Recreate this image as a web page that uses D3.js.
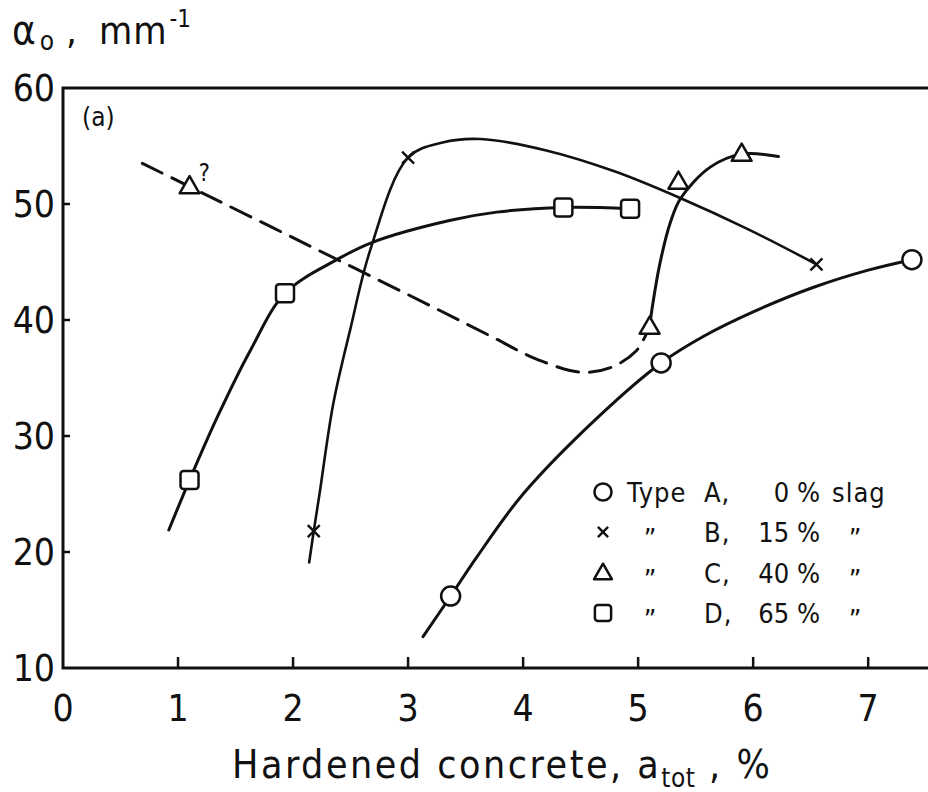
<!DOCTYPE html>
<html>
<head>
<meta charset="utf-8">
<script src="https://cdn.jsdelivr.net/npm/d3@7"></script>
<style>
  html, body { margin: 0; padding: 0; background: #fff; }
  svg { display: block; }
  text { font-family: "DejaVu Sans Condensed", "Liberation Sans Narrow", "DejaVu Sans", sans-serif; fill: #111; }
</style>
</head>
<body>
<svg id="chart" width="928" height="792"></svg>
<script>
// ---- data ----
const xTicks = [0, 1, 2, 3, 4, 5, 6, 7];
const yTicks = [10, 20, 30, 40, 50, 60];

// measured points (markers)
const pointsA = [[3.37, 16.2], [5.2, 36.3], [7.38, 45.2]];
const pointsB = [[2.18, 21.8], [3.0, 54.0], [6.55, 44.8]];
const pointsC = [[1.1, 51.5], [5.1, 39.4], [5.35, 51.9], [5.9, 54.3]];
const pointsD = [[1.1, 26.2], [1.93, 42.3], [4.35, 49.7], [4.93, 49.6]];

// hand-drawn trend curves
const curveA = [[3.13, 12.7], [3.37, 16.2], [3.6, 19.6], [4.0, 25.0], [4.67, 31.8], [5.2, 36.3], [5.57, 38.6], [6.0, 40.7], [6.52, 42.8], [7.0, 44.3], [7.38, 45.2]];
const curveB = [[2.14, 19.1], [2.18, 21.8], [2.23, 25.0], [2.35, 32.8], [2.5, 39.3], [2.67, 46.0], [3.0, 54.0], [3.3, 55.3], [3.63, 55.6], [4.21, 54.6], [4.8, 52.8], [5.37, 50.5], [5.94, 47.9], [6.55, 44.8]];
const curveC = [[5.1, 39.4], [5.12, 40.9], [5.19, 44.9], [5.28, 48.4], [5.37, 50.5], [5.63, 53.2], [5.9, 54.3], [6.22, 54.1]];
const curveCdashed = [[0.69, 53.5], [1.1, 51.5], [2.06, 46.8], [3.22, 41.1], [3.74, 38.5], [4.1, 36.7], [4.5, 35.5], [4.76, 35.9], [4.98, 37.3], [5.1, 39.4]];
const curveD = [[0.92, 21.9], [1.1, 26.2], [1.34, 31.6], [1.63, 37.4], [1.93, 42.3], [2.38, 45.2], [2.69, 46.7], [3.37, 48.6], [3.77, 49.3], [4.35, 49.7], [4.93, 49.6]];

const legendSymbols = ["circle", "cross", "triangle", "square"];
const legendLetters = ["A,", "B,", "C,", "D,"];
const legendPercents = ["0 %", "15 %", "40 %", "65 %"];

// ---- drawing ----
const svg = d3.select("#chart");
const x = d3.scaleLinear().domain([0, 7.52]).range([63, 928]);
const y = d3.scaleLinear().domain([10, 60]).range([668, 88]);

const line = d3.line().x(d => x(d[0])).y(d => y(d[1])).curve(d3.curveCatmullRom.alpha(0.5));

// frame: left axis, bottom axis, top border
svg.append("path")
  .attr("d", `M${x(7.52)},${y(60)} L${x(0)},${y(60)} L${x(0)},${y(10)} L${x(7.52)},${y(10)}`)
  .attr("fill", "none").attr("stroke", "#111").attr("stroke-width", 3);

// x ticks (inward)
svg.append("g").selectAll("line").data(xTicks.filter(d => d > 0)).join("line")
  .attr("x1", d => x(d)).attr("x2", d => x(d))
  .attr("y1", y(10)).attr("y2", y(10) - 11)
  .attr("stroke", "#111").attr("stroke-width", 2.5);
svg.append("g").selectAll("text").data(xTicks).join("text")
  .attr("x", d => x(d)).attr("y", 721)
  .attr("text-anchor", "middle").attr("font-size", 37)
  .text(d => d);

// y ticks (inward)
svg.append("g").selectAll("line").data(yTicks.filter(d => d > 10 && d < 60)).join("line")
  .attr("x1", x(0)).attr("x2", x(0) + 7)
  .attr("y1", d => y(d)).attr("y2", d => y(d))
  .attr("stroke", "#111").attr("stroke-width", 2.5);
svg.append("g").selectAll("text").data(yTicks).join("text")
  .attr("x", 55).attr("y", d => y(d) + 13)
  .attr("text-anchor", "end").attr("font-size", 37)
  .text(d => d);

// axis titles
const yt = svg.append("text").attr("x", 12).attr("y", 44).attr("font-size", 38);
yt.append("tspan").attr("font-size", 40).text("α");
yt.append("tspan").attr("font-size", 26).attr("dx", 4).attr("dy", 6).text("o");
yt.append("tspan").attr("dy", -6).attr("dx", 12).text(",");
yt.append("tspan").attr("dx", 22).attr("letter-spacing", 1).text("mm");
yt.append("tspan").attr("font-size", 24).attr("dy", -17).attr("dx", 2).text("-1");

const xt = svg.append("text").attr("x", 232).attr("y", 778).attr("font-size", 39).attr("letter-spacing", 2.5);
xt.append("tspan").text("Hardened concrete, a");
xt.append("tspan").attr("font-size", 26).attr("dy", 9).attr("letter-spacing", 0.5).text("tot");
xt.append("tspan").attr("dy", -9).text(" ,  %");

svg.append("text").attr("x", 82).attr("y", 126).attr("font-size", 26).text("(a)");

// curves
const curves = [
  { data: curveA, dash: null, w: 3 },
  { data: curveB, dash: null, w: 2.6 },
  { data: curveC, dash: null, w: 3 },
  { data: curveD, dash: null, w: 3 },
  { data: curveCdashed, dash: "22,11", w: 3 }
];
svg.append("g").selectAll("path").data(curves).join("path")
  .attr("d", d => line(d.data))
  .attr("fill", "none").attr("stroke", "#111")
  .attr("stroke-width", d => d.w)
  .attr("stroke-dasharray", d => d.dash)
  .attr("stroke-linecap", "round");

// markers
function drawMarker(g, type, cx, cy, s) {
  s = s || 1;
  if (type === "circle") {
    g.append("circle").attr("cx", cx).attr("cy", cy).attr("r", 9.5 * s)
      .attr("fill", "#fff").attr("stroke", "#111").attr("stroke-width", 2.5);
  } else if (type === "square") {
    g.append("rect").attr("x", cx - 9 * s).attr("y", cy - 9 * s).attr("width", 18 * s).attr("height", 18 * s)
      .attr("rx", 3).attr("fill", "#fff").attr("stroke", "#111").attr("stroke-width", 2.5);
  } else if (type === "triangle") {
    g.append("path").attr("transform", `translate(${cx},${cy + 1})`)
      .attr("d", d3.symbol(d3.symbolTriangle, 170 * s * s)())
      .attr("fill", "#fff").attr("stroke", "#111").attr("stroke-width", 2.5).attr("stroke-linejoin", "round");
  } else if (type === "cross") {
    const r = 6 * s;
    g.append("path")
      .attr("d", `M${cx - r},${cy - r}L${cx + r},${cy + r}M${cx - r},${cy + r}L${cx + r},${cy - r}`)
      .attr("stroke", "#111").attr("stroke-width", 2.4).attr("fill", "none");
  }
}
const mk = svg.append("g");
pointsA.forEach(p => drawMarker(mk, "circle", x(p[0]), y(p[1])));
pointsB.forEach(p => drawMarker(mk, "cross", x(p[0]), y(p[1])));
pointsC.forEach(p => drawMarker(mk, "triangle", x(p[0]), y(p[1])));
pointsD.forEach(p => drawMarker(mk, "square", x(p[0]), y(p[1])));

// question mark next to the doubtful triangle
svg.append("text").attr("x", x(pointsC[0][0]) + 9).attr("y", y(pointsC[0][1]) - 6)
  .attr("font-size", 24).text("?");

// legend
const rowY = [492, 532, 573, 613];
const lg = svg.append("g").attr("font-size", 27);
legendSymbols.forEach((s, i) => {
  drawMarker(lg, s, 603, rowY[i], s === "cross" ? 0.85 : 0.9);
  const ty = rowY[i] + 10;
  if (i === 0) {
    lg.append("text").attr("x", 627).attr("y", ty).attr("letter-spacing", 1).text("Type");
    lg.append("text").attr("x", 832).attr("y", ty).attr("letter-spacing", 1).text("slag");
  } else {
    lg.append("text").attr("x", 650).attr("y", ty + 6).attr("text-anchor", "middle").text("\u201D");
    lg.append("text").attr("x", 855).attr("y", ty + 6).attr("text-anchor", "middle").text("\u201D");
  }
  lg.append("text").attr("x", 704).attr("y", ty).attr("letter-spacing", 1).text(legendLetters[i]);
  lg.append("text").attr("x", 820).attr("y", ty).attr("text-anchor", "end").text(legendPercents[i]);
});
</script>
</body>
</html>
